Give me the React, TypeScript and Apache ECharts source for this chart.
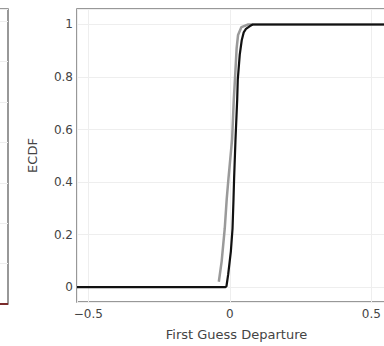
import React, { useEffect, useRef } from "react";
import * as echarts from "echarts";

// Black ECDF (x, y)
const blackX = [-0.54, -0.015, -0.012, -0.006, 0.0035, 0.0095, 0.013, 0.015, 0.02, 0.026, 0.028, 0.035, 0.042, 0.049, 0.057, 0.071, 0.081, 0.587];
const blackY = [0, 0, 0.003, 0.047, 0.135, 0.223, 0.336, 0.412, 0.563, 0.715, 0.79, 0.885, 0.94, 0.97, 0.983, 0.994, 1, 1];
// Gray ECDF (x, y)
const grayX = [-0.039, -0.029, -0.018, -0.011, -0.005, 0.008, 0.014, 0.018, 0.024, 0.029, 0.041, 0.065, 0.587];
const grayY = [0.02, 0.097, 0.223, 0.336, 0.412, 0.563, 0.715, 0.79, 0.91, 0.96, 0.99, 1, 1];
// Neighbouring (cut-off) panel on the left
const leftX = [0, 1];
const leftY = [0, 0];

const xTitle = "First Guess Departure";
const yTitle = "ECDF";

const FONT = "DejaVu Sans";

export default function App() {
  const ref = useRef<HTMLDivElement>(null);
  useEffect(() => {
    document.body.style.margin = "0";
    document.body.style.overflow = "hidden";
    const chart = echarts.init(ref.current!, null, { renderer: "svg" });
    const fmt = (v: number) => String(Math.round(v * 1000) / 1000).replace("-", "\u2212");
    chart.setOption({
      animation: false,
      backgroundColor: "#fff",
      grid: [
        { left: 177, top: 9, width: 319, height: 295, show: true, borderColor: "#777", borderWidth: 1.5, backgroundColor: "transparent" },
        { left: 0, top: 9, width: 108, height: 295, show: true, borderColor: "#777", borderWidth: 1.5, backgroundColor: "transparent" },
      ],
      xAxis: [
        {
          gridIndex: 0,
          type: "value",
          min: -0.54,
          max: 0.587,
          minInterval: 0.5,
          maxInterval: 0.5,
          axisLine: { show: false },
          axisTick: { show: false },
          splitLine: { show: true, lineStyle: { color: "#eeeeee", width: 1 } },
          axisLabel: { showMinLabel: false, showMaxLabel: false, formatter: fmt, color: "#444", fontFamily: FONT, fontSize: 12, margin: 6 },
          name: xTitle,
          nameLocation: "middle",
          nameGap: 26,
          nameTextStyle: { color: "#444", fontFamily: FONT, fontSize: 13 },
        },
        {
          gridIndex: 1,
          type: "value",
          min: 0,
          max: 1,
          axisLine: { show: false },
          axisTick: { show: false },
          axisLabel: { show: false },
          splitLine: { show: false },
        },
      ],
      yAxis: [
        {
          gridIndex: 0,
          type: "value",
          min: -0.057,
          max: 1.059,
          minInterval: 0.2,
          maxInterval: 0.2,
          axisLine: { show: false },
          axisTick: { show: false },
          splitLine: { show: true, lineStyle: { color: "#eeeeee", width: 1 } },
          axisLabel: { showMinLabel: false, showMaxLabel: false, formatter: fmt, color: "#444", fontFamily: FONT, fontSize: 12, margin: 4 },
          name: yTitle,
          nameLocation: "middle",
          nameGap: 38,
          nameTextStyle: { color: "#444", fontFamily: FONT, fontSize: 13 },
        },
        {
          gridIndex: 1,
          type: "value",
          min: 0,
          max: 7.3,
          minInterval: 1,
          maxInterval: 1,
          axisLine: { show: false },
          axisTick: { show: false },
          axisLabel: { show: false },
          splitLine: { show: true, lineStyle: { color: "#eeeeee", width: 1 } },
        },
      ],
      series: [
        {
          type: "line",
          xAxisIndex: 0,
          yAxisIndex: 0,
          data: grayX.map((x, i) => [x, grayY[i]]),
          showSymbol: false,
          symbol: "none",
          lineStyle: { color: "#9a9a9a", width: 2.5 },
          clip: false,
          z: 2,
        },
        {
          type: "line",
          xAxisIndex: 0,
          yAxisIndex: 0,
          data: blackX.map((x, i) => [x, blackY[i]]),
          showSymbol: false,
          symbol: "none",
          lineStyle: { color: "#111", width: 2.2 },
          clip: false,
          z: 3,
        },
        {
          type: "line",
          xAxisIndex: 1,
          yAxisIndex: 1,
          data: leftX.map((x, i) => [x, leftY[i]]),
          showSymbol: false,
          symbol: "none",
          lineStyle: { color: "#7a2a2a", width: 2 },
          clip: false,
          z: 1,
        },
      ],
    });
    return () => chart.dispose();
  }, []);
  return <div ref={ref} style={{ position: "fixed", left: -100, top: 0, width: 520, height: 346 }} />;
}
